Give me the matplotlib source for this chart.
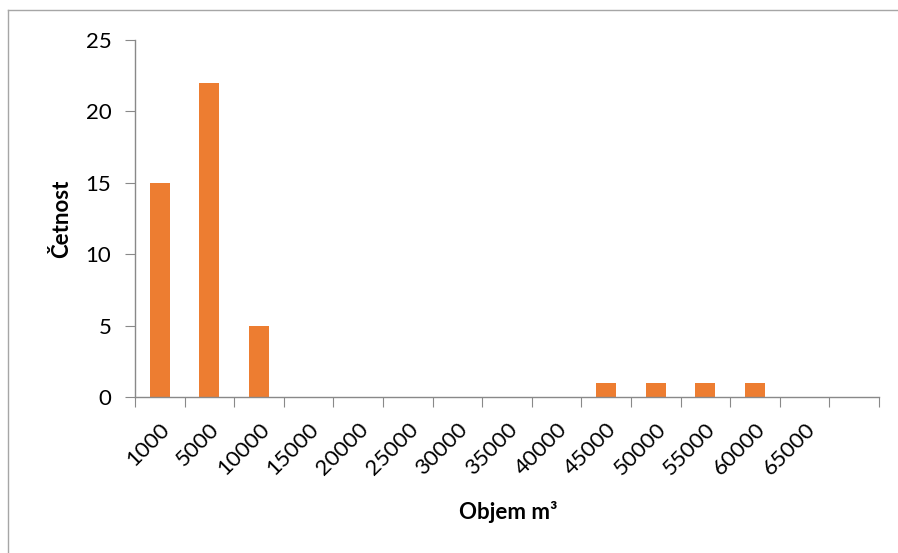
import matplotlib.pyplot as plt
import numpy as np
from matplotlib.lines import Line2D

# histogram bins (last bin has no label) and counts
bins = ['1000', '5000', '10000', '15000', '20000', '25000', '30000', '35000',
        '40000', '45000', '50000', '55000', '60000', '65000', '']
counts = [15, 22, 5, 0, 0, 0, 0, 0, 0, 1, 1, 1, 1, 0, 0]

plt.rcParams['font.family'] = ['Lato', 'DejaVu Sans']

fig = plt.figure(figsize=(8.98, 5.53), dpi=100)
ax = fig.add_axes([0.1503, 0.2821, 0.8285, 0.6456])

x = np.arange(len(bins))
ax.bar(x, counts, width=0.4, color='#ED7D31', zorder=2)

ax.set_xlim(-0.5, len(bins) - 0.5)
ax.set_ylim(0, 25)
ax.set_yticks([0, 5, 10, 15, 20, 25])

# tick marks at bin edges, labels at bin centres
ax.set_xticks(np.arange(len(bins) + 1) - 0.5)
ax.set_xticklabels([])
ax.set_xticks(x, minor=True)
ax.set_xticklabels(bins, minor=True, rotation=45, ha='right',
                   rotation_mode='anchor', fontsize=16)
ax.tick_params(axis='x', which='minor', length=0, pad=16)
ax.tick_params(axis='x', which='major', length=7, color='#898989')
ax.tick_params(axis='y', length=7, color='#898989', labelsize=16, pad=10)

for s in ['top', 'right']:
    ax.spines[s].set_visible(False)
for s in ['left', 'bottom']:
    ax.spines[s].set_color('#898989')
    ax.spines[s].set_linewidth(1)

ax.set_ylabel('Četnost', fontsize=16, fontweight='bold', labelpad=10)
fig.text(508 / 898, 1 - 512 / 553, 'Objem m³', fontsize=16, fontweight='bold',
         ha='center', va='center')

# outer chart frame (only top and left edges visible)
fig.add_artist(Line2D([8 / 898, 8 / 898], [0, 1 - 10 / 553], color='#A6A6A6', lw=1))
fig.add_artist(Line2D([8 / 898, 1], [1 - 10 / 553, 1 - 10 / 553], color='#A6A6A6', lw=1))

plt.savefig('out.png')
